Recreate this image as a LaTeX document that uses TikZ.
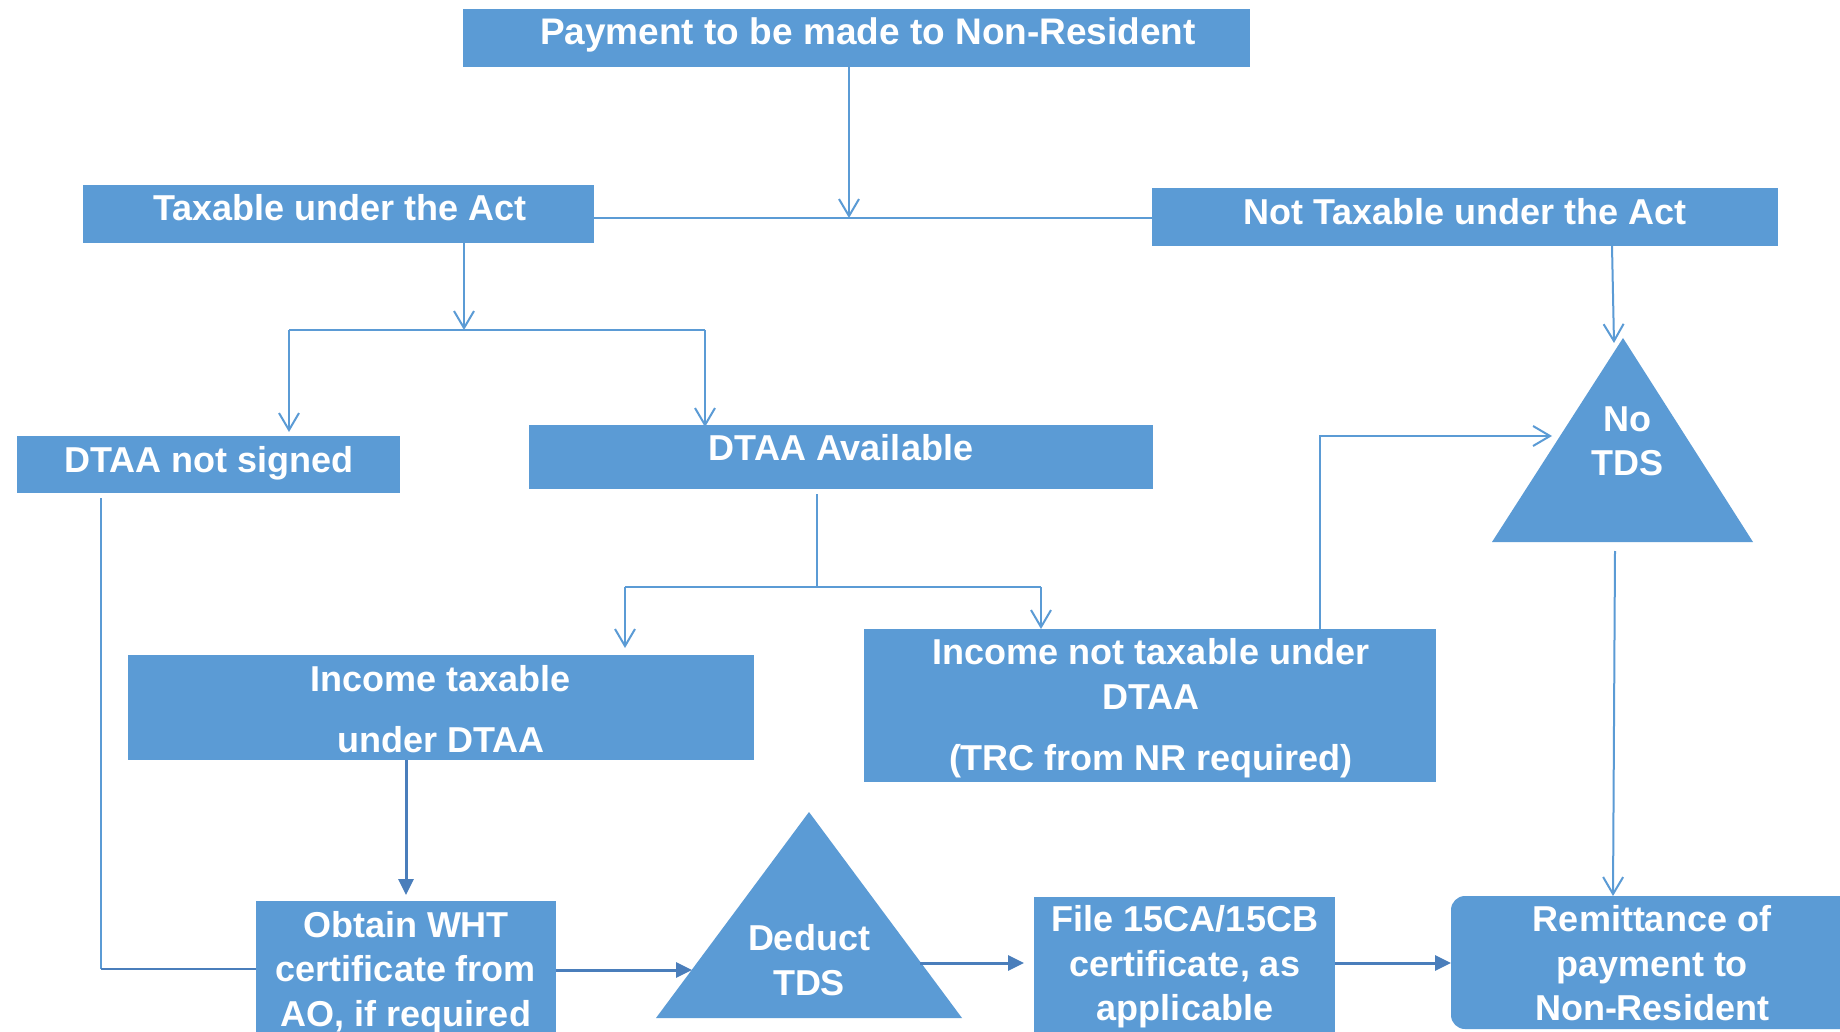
\documentclass[tikz,border=0pt]{standalone}
\usepackage{fontspec}
\setmainfont{Liberation Sans}
\usetikzlibrary{arrows.meta,calc}
\definecolor{boxblue}{HTML}{5B9BD5}
\definecolor{lineblue}{HTML}{5B9BD5}
\definecolor{darkblue}{HTML}{4A7EBB}
\newcommand\lnst{\rule[-10pt]{0pt}{37pt}}
\begin{document}
\begin{tikzpicture}[x=1pt,y=-1pt,
  boxnode/.style={fill=boxblue, draw=none, inner sep=0pt, outer sep=0pt, anchor=north west},
  txt/.style={text=white, font=\fontsize{36}{44.5}\selectfont\bfseries, align=center, inner sep=0pt},
  conn/.style={draw=lineblue, line width=2pt},
  oarr/.style={conn, -{Straight Barb[length=17pt,width=20pt]}},
  farr/.style={draw=darkblue, line width=3pt, -{Triangle[length=16pt,width=15pt]}}
]
\fill[white] (0,0) rectangle (1840,1032);
\useasboundingbox (0,0) rectangle (1840,1032);

% boxes
\node[boxnode, minimum width=787pt, minimum height=58pt] (pay) at (463,9) {};
\node[boxnode, minimum width=511pt, minimum height=58pt] (tax) at (83,185) {};
\node[boxnode, minimum width=626pt, minimum height=58pt] (nottax) at (1152,188) {};
\node[boxnode, minimum width=383pt, minimum height=57pt] (dns) at (17,436) {};
\node[boxnode, minimum width=624pt, minimum height=64pt] (davail) at (529,425) {};
\node[boxnode, minimum width=626pt, minimum height=105pt] (inctax) at (128,655) {};
\node[boxnode, minimum width=572pt, minimum height=153pt] (incnot) at (864,629) {};
\node[boxnode, minimum width=300pt, minimum height=138pt] (wht) at (256,901) {};
\node[boxnode, minimum width=301pt, minimum height=150pt] (file) at (1034,897) {};
\node[boxnode, rounded corners=14pt, minimum width=420pt, minimum height=133pt] (remit) at (1451,896) {};

% triangles
\fill[boxblue] (1623,338) -- (1753,542) -- (1492,542) -- cycle;
\fill[boxblue] (809,812) -- (962,1018) -- (656,1018) -- cycle;

% texts
\node[txt, font=\fontsize{37}{44.5}\selectfont\bfseries] (t-pay) at (868,36.5) {\lnst Payment to be made to Non-Resident};
\node[txt] (t-tax) at (340,212.5) {\lnst Taxable under the Act};
\node[txt] (t-nottax) at (1465,216.5) {\lnst Not Taxable under the Act};
\node[txt] (t-dns) at (209,463.5) {\lnst DTAA not signed};
\node[txt] (t-davail) at (841,451.5) {\lnst DTAA Available};
\node[txt] (t-inctax) at (441,713) {\lnst Income taxable\\[16.5pt]\lnst under DTAA};
\node[txt] (t-incnot) at (1151,709) {\lnst Income not taxable under\\\lnst DTAA\\[16.5pt]\lnst (TRC from NR required)};
\node[txt] (t-notds) at (1627,445) {\lnst No\\\lnst TDS};
\node[txt] (t-deduct) at (809,964.5) {\lnst Deduct\\\lnst TDS};
\node[txt] (t-wht) at (406,973) {\lnst Obtain WHT\\\lnst certificate from\\\lnst AO, if required};
\node[txt] (t-file) at (1185,967.5) {\lnst File 15CA/15CB\\\lnst certificate, as\\\lnst applicable};
\node[txt] (t-remit) at (1652,967.5) {\lnst Remittance of\\\lnst payment to\\\lnst Non-Resident};

% connectors
\coordinate (j1) at (849,218);
\draw[oarr] (pay.south -| j1) -- (j1);
\draw[conn] (tax.east |- j1) -- (nottax.west |- j1);

\coordinate (j2) at (464,330);
\coordinate (j2l) at (289,330);
\coordinate (j2r) at (705,330);
\draw[oarr] (tax.south -| j2) -- (j2);
\draw[conn] (j2l) -- (j2r);
\draw[oarr] (j2l) -- ($(j2l |- dns.north)+(0,-4)$);
\draw[oarr] (j2r) -- ($(j2r |- davail.north)+(0,2)$);

\coordinate (j3) at (817,587);
\coordinate (j3l) at (625,587);
\coordinate (j3r) at (1041,587);
\draw[conn] ($(davail.south -| j3)+(0,5)$) -- (j3);
\draw[conn] (j3l) -- (j3r);
\draw[oarr] (j3l) -- ($(j3l |- inctax.north)+(0,-7)$);
\draw[oarr] (j3r) -- (j3r |- incnot.north);

\coordinate (j4) at (1320,436);
\coordinate (ntl) at (1552,436);
\draw[oarr] (incnot.north -| j4) -- (j4) -- (ntl);

\coordinate (ntt) at (1614,343);
\draw[oarr] ($(nottax.south -| ntt)+(-2,0)$) -- (ntt);

\coordinate (ntb) at (1615,551);
\draw[oarr] (ntb) -- ($(ntb |- remit.north)+(-2,0)$);

\coordinate (j5) at (101,969);
\draw[conn] ($(dns.south -| j5)+(0,5)$) -- (j5);
\draw[conn, draw=darkblue] (j5) -- (wht.west |- j5);

\draw[farr] (inctax.south -| wht.north) -- ($(wht.north)+(0,-6)$);
\coordinate (dl) at (692,970);
\draw[farr] (wht.east |- dl) -- (dl);
\coordinate (dr) at (920,963);
\draw[farr] (dr) -- ($(file.west |- dr)+(-10,0)$);
\draw[farr] (file.east |- dr) -- (remit.west |- dr);
\end{tikzpicture}
\end{document}
